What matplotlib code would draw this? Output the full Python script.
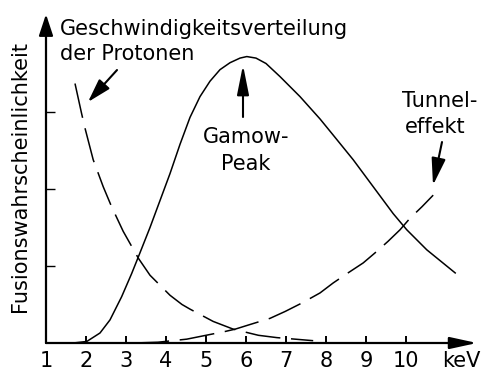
import matplotlib
matplotlib.use("Agg")
import matplotlib.pyplot as plt

# values: energy in keV, height in y-tick units
gamow_x = [1.68, 2.02, 2.35, 2.6, 2.89, 3.14, 3.31, 3.6, 3.85, 4.1, 4.35, 4.6,
           4.85, 5.1, 5.35, 5.6, 5.85, 6.02, 6.25, 6.5, 6.85, 7.35, 7.85, 8.18,
           8.68, 9.18, 9.68, 10.02, 10.52, 11.23]
gamow_y = [0.0, 0.02, 0.13, 0.30, 0.60, 0.90, 1.12, 1.50, 1.85, 2.2, 2.58, 2.93,
           3.2, 3.4, 3.55, 3.64, 3.7, 3.72, 3.70, 3.63, 3.46, 3.2, 2.91, 2.70,
           2.38, 2.03, 1.68, 1.47, 1.21, 0.91]

maxwell_x = [1.725, 1.89, 1.975, 2.18, 2.43, 2.64, 2.93, 3.31, 3.6, 4.1, 4.4, 4.6,
             5.18, 5.68, 6.31, 6.77, 7.68]
maxwell_y = [3.37, 2.98, 2.79, 2.38, 2.03, 1.77, 1.45, 1.10, 0.88, 0.62, 0.50, 0.44,
             0.28, 0.18, 0.10, 0.07, 0.03]

tunnel_x = [3.2, 3.8, 4.52, 5.0, 5.48, 5.73, 6.1, 6.6, 6.98, 7.4, 7.85, 8.18,
            8.55, 8.93, 9.27, 9.55, 9.85, 10.1, 10.4, 10.68]
tunnel_y = [0.0, 0.01, 0.05, 0.10, 0.15, 0.18, 0.24, 0.32, 0.41, 0.52, 0.65, 0.78,
            0.91, 1.04, 1.19, 1.32, 1.47, 1.62, 1.77, 1.92]

xticks = list(range(1, 11))
xtick_labels = [str(t) for t in xticks]
yticks = [1, 2, 3]

W, H = 483, 372
X0, X1 = 1.0, 11.8
Y0, Y1 = 0.0, 4.3
FS = 15
DASH = (23, 7)

fig = plt.figure(figsize=(W / 100, H / 100), dpi=100)
ax = fig.add_axes([46 / W, (H - 343) / H, (X1 - X0) * 40 / W, (Y1 - Y0) * 77 / H])
ax.set_xlim(X0, X1)
ax.set_ylim(Y0, Y1)
for s in ax.spines.values():
    s.set_visible(False)


def arrow(tail, tip, lw=1.5, hl=1.6, hw=0.4):
    ax.annotate("", xy=tip, xytext=tail, annotation_clip=False,
                arrowprops=dict(arrowstyle=f"-|>,head_length={hl},head_width={hw}",
                                lw=lw, color="k", shrinkA=0, shrinkB=0,
                                mutation_scale=10))


# axes with arrow heads
arrow((1.0, 0.0), (11.775, 0.0), lw=1.6, hl=1.65, hw=0.36)
arrow((1.0, 0.0), (1.0, 4.27), lw=1.6, hl=1.3, hw=0.43)

ax.plot(gamow_x, gamow_y, color="k", lw=1.1)
ax.plot(maxwell_x, maxwell_y, color="k", lw=1.1, dashes=DASH)
ax.plot(tunnel_x, tunnel_y, color="k", lw=1.1, dashes=DASH)

ax.set_xticks(xticks, xtick_labels)
ax.set_xticks([11.38], ["keV"], minor=True)
ax.set_yticks(yticks, [])
ax.tick_params(axis="x", which="major", direction="in", length=5, width=1.4,
               pad=6, labelsize=FS)
ax.tick_params(axis="x", which="minor", length=0, pad=6, labelsize=FS)
ax.tick_params(axis="y", direction="in", length=6.5, width=1.0)

# labels and pointers
ax.text(1.35, 4.0, "Geschwindigkeitsverteilung", fontsize=FS, va="baseline")
ax.text(1.35, 3.675, "der Protonen", fontsize=FS, va="baseline")
arrow((2.775, 3.545), (2.05, 3.13), hl=1.45, hw=0.43)

ax.text(6.0, 2.597, "Gamow-", fontsize=FS, ha="center", va="baseline")
ax.text(6.0, 2.247, "Peak", fontsize=FS, ha="center", va="baseline")
arrow((5.925, 2.935), (5.925, 3.61), hl=1.8, hw=0.36)

ax.text(10.85, 3.065, "Tunnel-", fontsize=FS, ha="center", va="baseline")
ax.text(10.725, 2.727, "effekt", fontsize=FS, ha="center", va="baseline")
arrow((10.9, 2.61), (10.675, 2.05), hl=1.65, hw=0.43)

fig.text(20 / W, 1 - 176 / H, "Fusionswahrscheinlichkeit", rotation=90,
         ha="center", va="center", fontsize=FS)

fig.savefig("out.png", dpi=100)
